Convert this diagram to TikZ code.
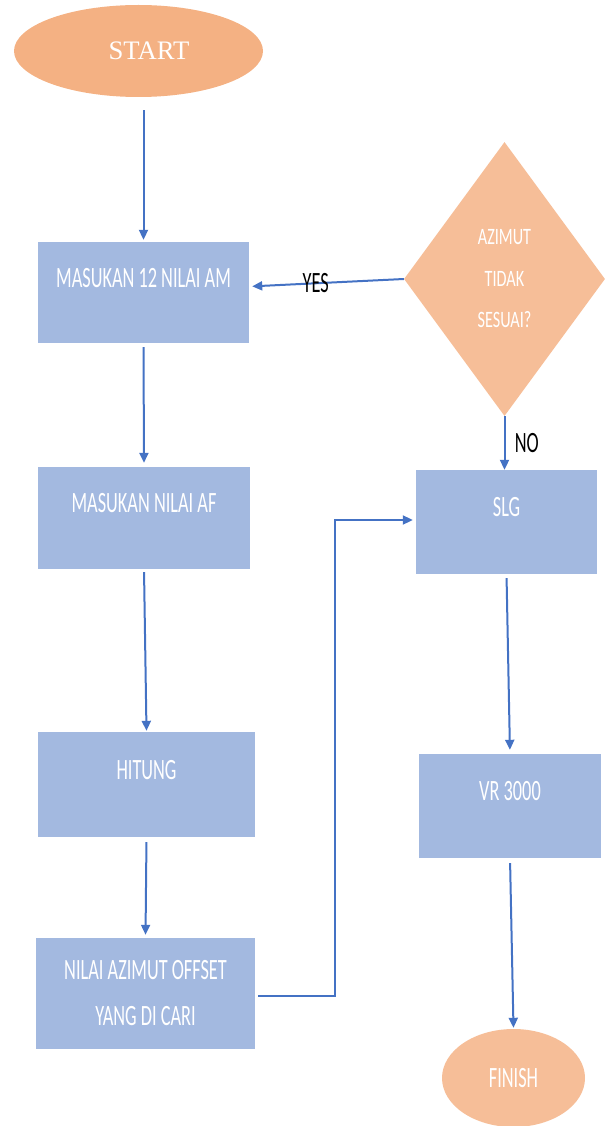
\documentclass[tikz,border=0pt]{standalone}
\usepackage{fontspec}
\usetikzlibrary{shapes.geometric,arrows.meta}
\newfontfamily\flowfont[FakeStretch=0.62]{Carlito}
\newfontfamily\diamfont[FakeStretch=0.69]{Carlito}
\newfontfamily\startfont{Liberation Serif}
\definecolor{boxblue}{HTML}{A3B9E0}
\definecolor{startorange}{HTML}{F4B183}
\definecolor{softorange}{HTML}{F6BE98}
\definecolor{linkblue}{HTML}{4472C4}
\tikzset{
  flowbox/.style={rectangle,fill=boxblue,text=white,inner sep=0pt,
    font=\flowfont\fontsize{29.5}{46}\selectfont,align=center},
  raisedtext/.style={text depth=30pt},
  terminal/.style={ellipse,fill=#1,text=white,inner sep=0pt},
  link/.style={draw=linkblue,line width=2pt,-{Triangle[length=10pt,width=9pt]}}
}
\begin{document}
\begin{tikzpicture}[x=1pt,y=-1pt]
\useasboundingbox (0,0) rectangle (610,1126);

% left column
\node[terminal=startorange,minimum width=249pt,minimum height=92pt,
  font=\startfont\fontsize{26.7}{30}\selectfont] (start) at (138.5,51) {\hspace*{21pt}START};
\node[flowbox,raisedtext,minimum width=211pt,minimum height=101pt] (m12) at (143.5,292.5) {MASUKAN 12 NILAI AM};
\node[flowbox,raisedtext,minimum width=212pt,minimum height=102pt] (maf) at (144,518) {MASUKAN NILAI AF};
\node[flowbox,raisedtext,minimum width=217pt,minimum height=105pt] (hit) at (146.5,784.5) {HITUNG};
\node[flowbox,minimum width=219pt,minimum height=111pt] (aos) at (145.5,993.5) {NILAI AZIMUT OFFSET\\YANG DI CARI};

% right column
\node[diamond,fill=softorange,text=white,inner sep=0pt,minimum width=201pt,minimum height=274pt,
  font=\diamfont\fontsize{23.5}{41.5}\selectfont,align=center] (q) at (504.5,279) {AZIMUT\\TIDAK\\SESUAI?};
\node[flowbox,raisedtext,minimum width=181pt,minimum height=104pt] (slg) at (506.5,522) {SLG};
\node[flowbox,raisedtext,minimum width=182pt,minimum height=104pt] (vr) at (510,806) {VR 3000};
\node[terminal=softorange,minimum width=143pt,minimum height=98pt,
  font=\flowfont\fontsize{29.5}{34}\selectfont] (finish) at (513.5,1078) {FINISH};

% connectors
\draw[link,shorten <=13pt,shorten >=2pt] (start.south -| m12.north) -- (m12.north);
\draw[link,shorten <=4pt,shorten >=4pt] (m12.south) -- (maf.north);
\draw[link,shorten <=3pt,shorten >=1pt] (maf.south) -- (hit.north);
\draw[link,shorten <=5pt,shorten >=3pt] (hit.south) -- (aos.north);
\draw[link,shorten <=3pt,shorten >=3pt] ([yshift=-2.5pt]aos.east) -- ++(80,0) |- ([yshift=2pt]slg.west);
\draw[link,shorten >=3pt] (q.west) -- node[pos=0.57,text=black,font=\flowfont\fontsize{29.5}{34}\selectfont] (yes) {YES} ([yshift=6pt]m12.east);
\draw[link,shorten >=0pt] (q.south) -- node[right=6pt,text=black,font=\flowfont\fontsize{29.5}{34}\selectfont] (no) {NO} (q.south |- slg.north);
\draw[link,shorten <=4pt,shorten >=4pt] (slg.south) -- (vr.north);
\draw[link,shorten <=5pt,shorten >=1pt] (vr.south) -- (finish.north);
\end{tikzpicture}
\end{document}
